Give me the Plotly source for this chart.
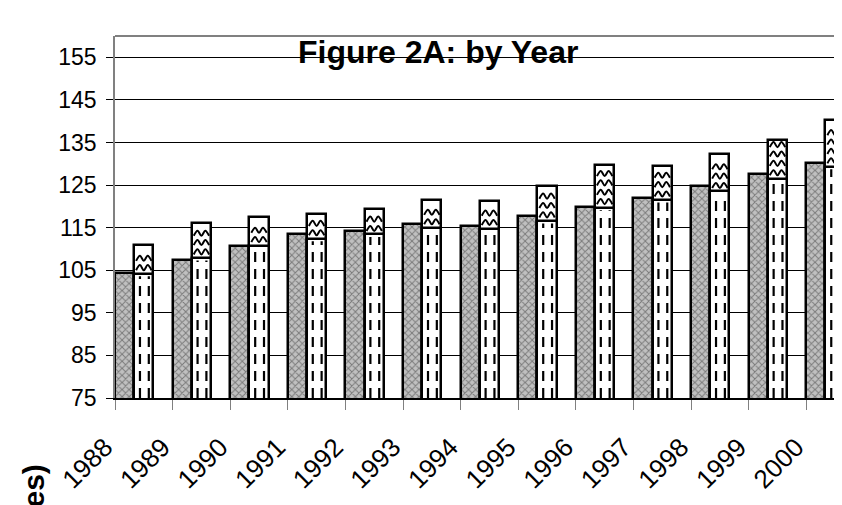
import plotly.graph_objects as go

years = ["1988", "1989", "1990", "1991", "1992", "1993", "1994",
         "1995", "1996", "1997", "1998", "1999", "2000"]
series_a = [104.3, 107.5, 110.8, 113.4, 114.3, 115.9, 115.5, 117.7, 119.9, 122.0, 124.7, 127.5, 130.1]
series_b = [104.2, 107.9, 110.8, 112.4, 113.4, 115.0, 114.8, 116.6, 119.7, 121.5, 123.5, 126.5, 129.3]
series_total = [110.9, 116.0, 117.5, 118.1, 119.3, 121.6, 121.3, 124.7, 129.6, 129.5, 132.4, 135.6, 140.2]
y_ticks = [75, 85, 95, 105, 115, 125, 135, 145, 155]

n = len(years)
idx = list(range(n))
BW = 1 / 3

fig = go.Figure()

# first bar of each year: cross-hatched grey
fig.add_trace(go.Bar(
    x=[i + BW / 2 for i in idx], y=series_a, width=BW,
    marker=dict(color="#a0a0a0", line=dict(color="black", width=2.5),
                pattern=dict(shape="x", size=5, fgcolor="#333333", bgcolor="#c0c0c0", solidity=0.35)),
    showlegend=False, hoverinfo="skip"))

# second bar total (wavy top part)
fig.add_trace(go.Bar(
    x=[i + 1.5 * BW for i in idx], y=series_total, width=BW,
    marker=dict(color="white", line=dict(color="black", width=2.5)),
    showlegend=False, hoverinfo="skip"))

# second bar lower part (dashed)
fig.add_trace(go.Bar(
    x=[i + 1.5 * BW for i in idx], y=series_b, width=BW,
    marker=dict(color="white", line=dict(color="black", width=2.5)),
    showlegend=False, hoverinfo="skip"))

# dashed vertical texture inside lower part of second bar
dx, dy = [], []
for i in idx:
    for rel in (0.3, 0.76):
        xx = i + BW + rel * BW
        dx += [xx, xx, None]
        dy += [75, series_b[i] - 0.6, None]
fig.add_trace(go.Scatter(x=dx, y=dy, mode="lines",
                         line=dict(color="black", width=2.2, dash="10px,7px"),
                         showlegend=False, hoverinfo="skip"))

# wavy texture inside upper part of second bar
wx, wy = [], []
for i in idx:
    lo, hi = series_b[i], series_total[i]
    yy = lo + 0.8
    while yy + 1.2 < hi - 0.5:
        for k in range(5):
            wx.append(i + BW + 0.1 * BW + k * (0.8 * BW) / 4)
            wy.append(yy + (1.2 if k % 2 == 1 else 0.0))
        wx.append(None)
        wy.append(None)
        yy += 2.2
fig.add_trace(go.Scatter(x=wx, y=wy, mode="lines",
                         line=dict(color="black", width=2, shape="spline"),
                         showlegend=False, hoverinfo="skip"))

fig.update_layout(
    width=842, height=505,
    margin=dict(l=107, r=8, t=28, b=115, autoexpand=False),
    paper_bgcolor="white", plot_bgcolor="white",
    barmode="overlay", bargap=0,
    font=dict(family="Liberation Sans, Arial, sans-serif", color="black"),
    xaxis=dict(range=[0, 12.62], tickmode="array", tickvals=idx, ticktext=years,
               tickangle=-45, ticks="outside", ticklen=10, tickcolor="#808080",
               tickfont=dict(size=26, color="black"),
               ticklabelstandoff=12, ticklabelshift=-10,
               showgrid=False, showline=True, linecolor="black", linewidth=1.5,
               zeroline=False, fixedrange=True, automargin=False),
    yaxis=dict(range=[75, 160], tickmode="array", tickvals=y_ticks,
               ticks="outside", ticklen=7, tickcolor="black",
               tickfont=dict(size=23, color="black"), ticklabelstandoff=5,
               showgrid=True, gridcolor="black", gridwidth=1,
               showline=True, linecolor="#808080", linewidth=1.5,
               zeroline=False, fixedrange=True, automargin=False),
    shapes=[dict(type="line", xref="paper", yref="paper", x0=0, x1=1, y0=1, y1=1,
                 line=dict(color="#808080", width=2))],
    annotations=[
        dict(text="<b>Figure 2A: by Year</b>", xref="paper", yref="paper",
             x=(438 - 115) / 727, y=1, xanchor="center", yanchor="top", yshift=4,
             showarrow=False, font=dict(size=32, color="black")),
        dict(text="<b>es)</b>", xref="paper", yref="paper",
             x=(33 - 115) / 727, y=(398 - 463) / 362, xanchor="center", yanchor="top",
             textangle=-90, showarrow=False, font=dict(size=30, color="black")),
    ],
)

fig.write_html("out.html")
